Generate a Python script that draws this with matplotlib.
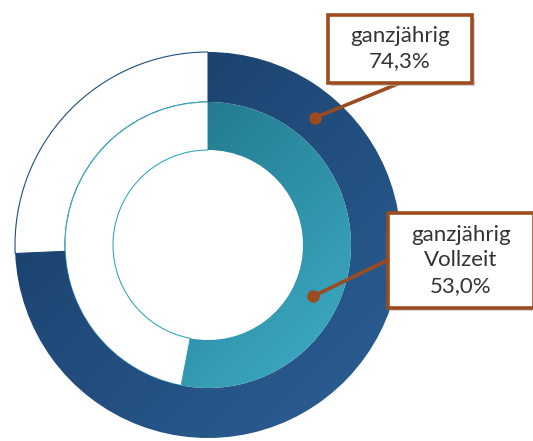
#!/usr/bin/env python3
"""
Two nested donut rings (ganzjährig / ganzjährig Vollzeit) with callout boxes.
"""
import matplotlib
matplotlib.use('Agg')
import matplotlib.pyplot as plt
import numpy as np
from matplotlib.patches import Rectangle
from matplotlib.colors import LinearSegmentedColormap

W, H = 533, 441

# data
ring_names = ['ganzjährig', 'ganzjährig\nVollzeit']
shares = [74.3, 53.0]

# layout (pixels, y measured from the bottom)
center = (208, H - 245)
radii = [193, 143]
width = [50, 48]
grad_colors = [('#163a64', '#2d6096'), ('#1b6b7c', '#3eaec8')]
edge_colors = ['#1f4e7a', '#3aa8c0']
brown = '#9c4a1f'
# (box x0, y0 from top, w, h), anchor on box, dot angle (deg clockwise from top)
boxes = [((328, 15, 144, 68), (400, 83), 40),
         ((388, 213, 146, 95), (388, 260), 116)]

plt.rcParams['font.family'] = ['Lato', 'DejaVu Sans']

fig = plt.figure(figsize=(W / 100, H / 100), dpi=100)
ax = fig.add_axes([0, 0, 1, 1])

for i, v in enumerate(shares):
    wedges, _ = ax.pie([v, 100 - v], radius=radii[i], center=center,
                       startangle=90, counterclock=False,
                       colors=['none', 'white'],
                       wedgeprops=dict(width=width[i], linewidth=0))
    wedges[1].set_edgecolor(edge_colors[i])
    wedges[1].set_linewidth(0.8)

    # diagonal gradient, clipped to the filled wedge
    r = radii[i]
    X, Y = np.meshgrid(np.linspace(-1, 1, 300), np.linspace(-1, 1, 300))
    t = (X - Y + 2) / 4
    cmap = LinearSegmentedColormap.from_list('g%d' % i, grad_colors[i])
    im = ax.imshow(t, cmap=cmap, origin='lower', vmin=0, vmax=1,
                   extent=[center[0] - r, center[0] + r, center[1] - r, center[1] + r],
                   zorder=1.5, interpolation='bilinear')
    im.set_clip_path(wedges[0])

# callouts
for i, v in enumerate(shares):
    (x0, y0, bw, bh), anchor, ang = boxes[i]
    rad = np.deg2rad(ang)
    rmid = radii[i] - width[i] / 2 - 2
    dot = (center[0] + rmid * np.sin(rad), center[1] + rmid * np.cos(rad))
    ax.annotate('', xy=dot, xytext=(anchor[0], H - anchor[1]),
                arrowprops=dict(arrowstyle='-', color=brown, lw=2.6,
                                shrinkA=0, shrinkB=0), zorder=3)
    ax.plot(*dot, 'o', color=brown, markersize=8, zorder=3)

    ax.add_patch(Rectangle((x0 + 3, H - y0 - bh - 3), bw, bh,
                           facecolor='#b8b8b8', edgecolor='none', alpha=0.6, zorder=4))
    ax.add_patch(Rectangle((x0, H - y0 - bh), bw, bh, facecolor='white',
                           edgecolor=brown, linewidth=2.6, zorder=5))
    txt = ring_names[i] + '\n' + f'{v:.1f}'.replace('.', ',') + '%'
    ax.text(x0 + bw / 2, H - y0 - bh / 2, txt, ha='center', va='center',
            fontsize=16, color='#333333', linespacing=1.32, zorder=6)

ax.set_xlim(0, W)
ax.set_ylim(0, H)
ax.set_aspect('auto')
ax.axis('off')

plt.savefig('out.png', dpi=100)
